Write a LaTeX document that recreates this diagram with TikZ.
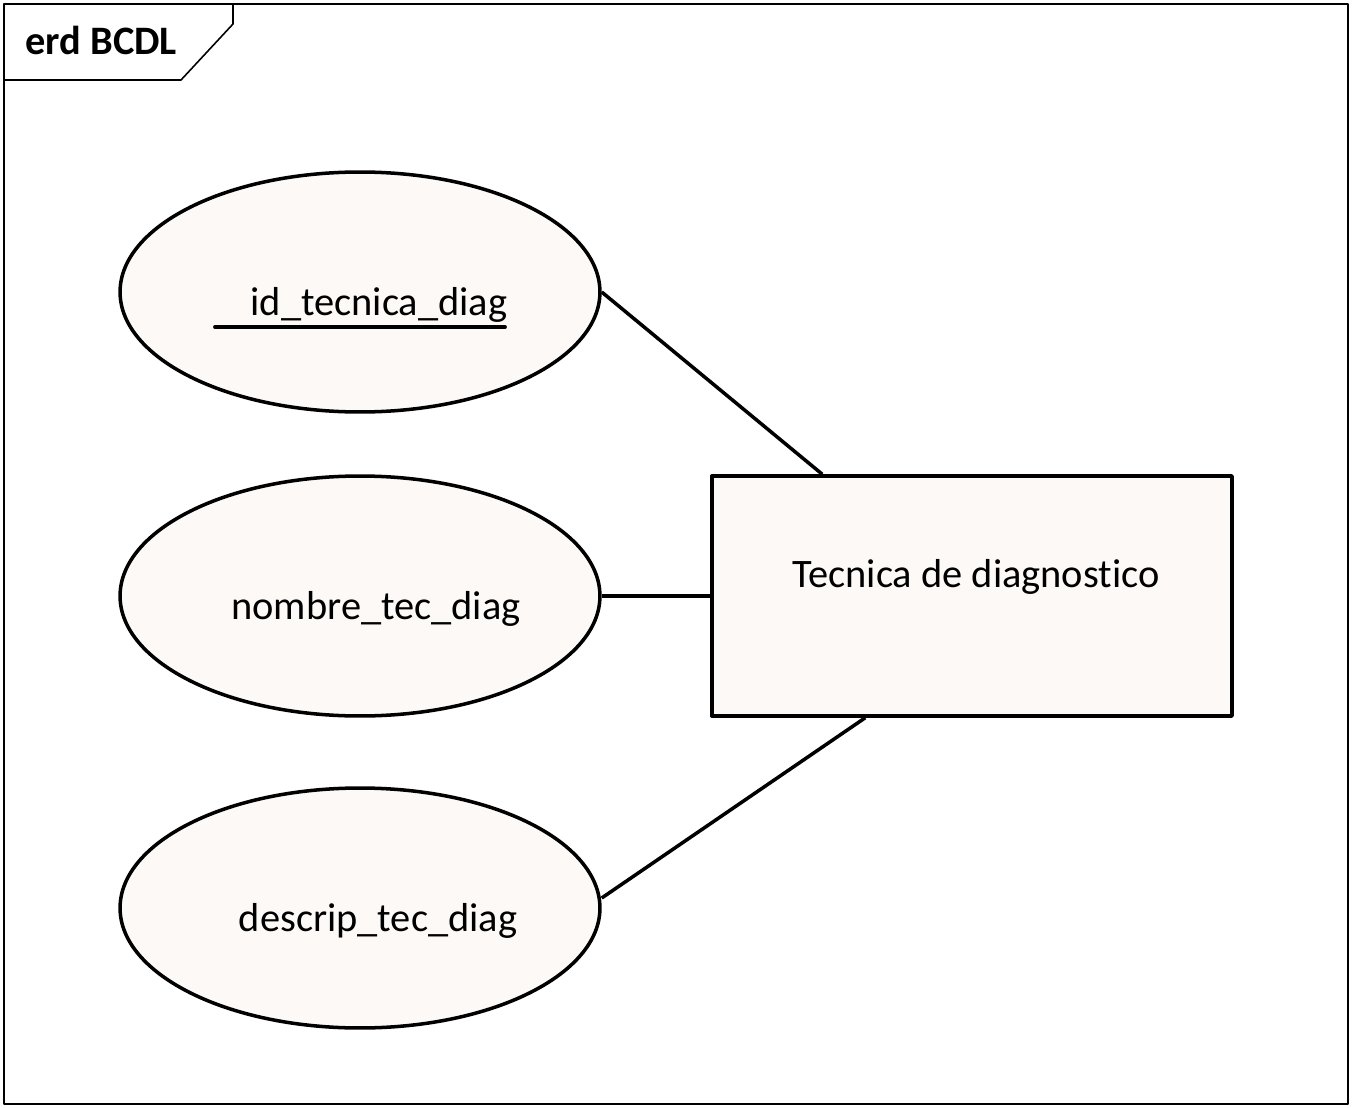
\documentclass[tikz,border=0pt]{standalone}
\usepackage{fontspec}
\setmainfont[Ligatures=NoCommon]{Carlito}
\usetikzlibrary{shapes.geometric,calc}
\definecolor{erdfill}{HTML}{FDF9F6}
\tikzset{
  every picture/.style={font={\fontsize{23}{27}\selectfont}, line join=round},
  attrib/.style={draw, ellipse, fill=erdfill, line width=2pt,
    minimum width=9.6cm, minimum height=4.8cm, inner sep=0pt},
  entity/.style={draw, rectangle, fill=erdfill, line width=2pt,
    minimum width=10.4cm, minimum height=4.8cm, inner sep=0pt},
  link/.style={line width=2pt}}

\begin{document}
\begin{tikzpicture}[x=0.02cm, y=-0.02cm]
    \useasboundingbox (0,0) rectangle (1352,1108);

    % frame and title tab
    \draw[line width=0.9pt] (4,4) rectangle (1348,1104);
    \draw[line width=0.9pt] (4,80) -- (181,80) -- (233,24) -- (233,4);
    \node[anchor=base west, inner sep=0pt, font={\fontsize{23}{27}\selectfont\bfseries}]
      (title) at (25,55) {erd BCDL};

    % attributes
    \node[attrib] (id) at (360,292) {};
    \node[attrib] (nombre) at (360,596) {};
    \node[attrib] (descrip) at (360,908) {};
    \node (idlbl) at (379,305) {id\_tecnica\_diag};
    \node (nombrelbl) at (376,609) {nombre\_tec\_diag};
    \node (descriplbl) at (378,921) {descrip\_tec\_diag};
    \draw[line width=2.2pt, line cap=round] (215,327) -- (505,327);

    % entity
    \node[entity] (tec) at (972,596) {};
    \node (teclbl) at (976,577) {Tecnica de diagnostico};

    % connectors
    \draw[link] (id.east) -- ([xshift=2.24cm]tec.north west);
    \draw[link] (nombre.east) -- (tec.west);
    \draw[link] ([yshift=0.2cm]descrip.east) -- ([xshift=3.1cm]tec.south west);
\end{tikzpicture}
\end{document}
